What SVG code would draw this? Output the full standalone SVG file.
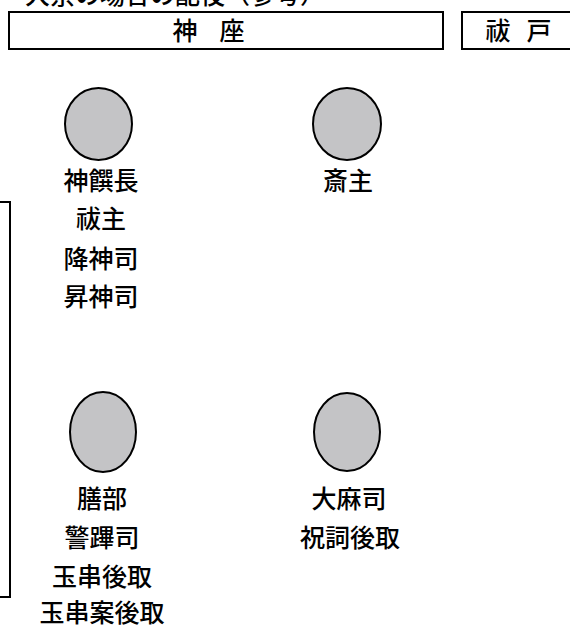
<svg xmlns="http://www.w3.org/2000/svg" width="570" height="628" viewBox="0 0 570 628">
<style>
  text { font-family: "Noto Sans CJK JP", "Noto Sans", sans-serif; fill: #000; font-weight: 500; }
  .lbl { font-size: 25px; text-anchor: middle; }
  .seat { fill: #c4c4c6; stroke: #000; stroke-width: 2; }
  .box { fill: #fff; stroke: #000; stroke-width: 2; }
  .line { fill: none; stroke: #000; stroke-width: 2; }
</style>
<rect width="570" height="628" fill="#fff"/>
<g id="title">
  <text x="25" y="4" font-size="25">大祭の場合の配役（参考）</text>
</g>
<g id="shinza">
  <rect class="box" x="9" y="12" width="434" height="37"/>
  <text class="lbl" x="185" y="40">神</text>
  <text class="lbl" x="232" y="40">座</text>
</g>
<g id="haraido">
  <rect class="box" x="462" y="12" width="120" height="37"/>
  <text class="lbl" x="498" y="40">祓</text>
  <text class="lbl" x="539" y="40">戸</text>
</g>
<g id="connectors">
  <path class="line" d="M0 202 H10 V597 H0"/>
</g>
<g id="node-shinsencho">
  <ellipse class="seat" cx="98.5" cy="124" rx="33.5" ry="36"/>
  <text class="lbl" x="101" y="190">神饌長</text>
  <text class="lbl" x="101" y="228">祓主</text>
  <text class="lbl" x="101" y="268">降神司</text>
  <text class="lbl" x="101" y="306">昇神司</text>
</g>
<g id="node-saishu">
  <ellipse class="seat" cx="347" cy="124" rx="34" ry="36"/>
  <text class="lbl" x="348" y="190">斎主</text>
</g>
<g id="node-kashiwade">
  <ellipse class="seat" cx="103" cy="432" rx="33" ry="40"/>
  <text class="lbl" x="102" y="508">膳部</text>
  <text class="lbl" x="102" y="547">警蹕司</text>
  <text class="lbl" x="102" y="586">玉串後取</text>
  <text class="lbl" x="102" y="622">玉串案後取</text>
</g>
<g id="node-oonusa">
  <ellipse class="seat" cx="347" cy="432" rx="33" ry="39"/>
  <text class="lbl" x="349" y="508">大麻司</text>
  <text class="lbl" x="350" y="547">祝詞後取</text>
</g>
</svg>
